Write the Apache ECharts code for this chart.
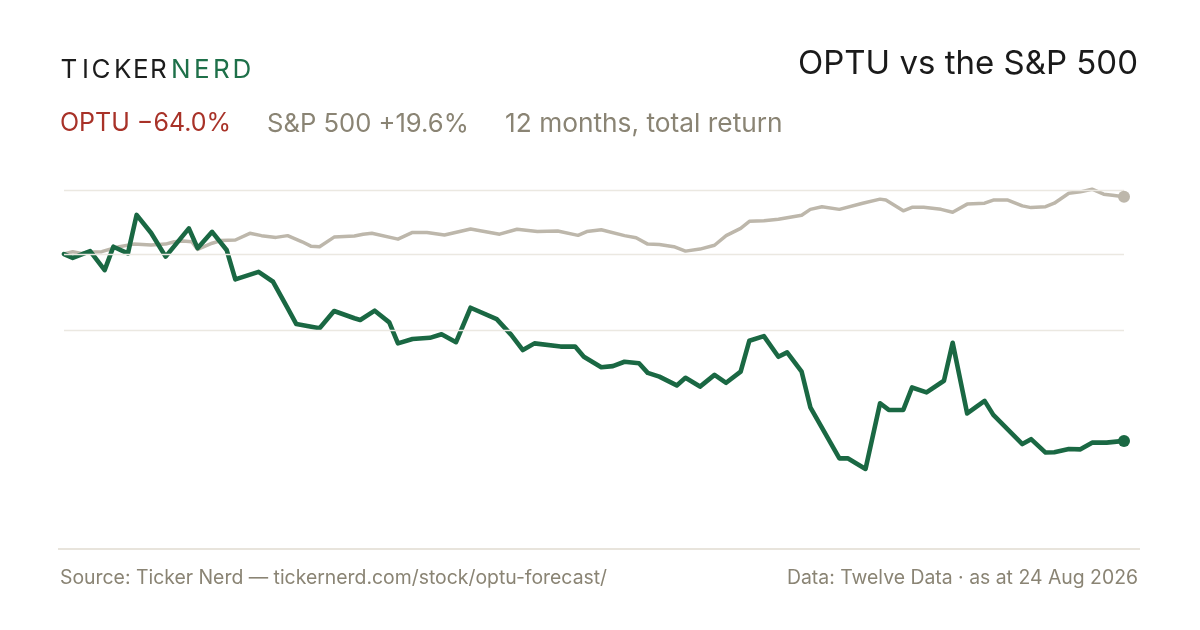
<!DOCTYPE html>
<html><head><meta charset="utf-8">
<script src="https://cdn.jsdelivr.net/npm/echarts@6/dist/echarts.min.js"></script>
<style>html,body{margin:0;padding:0;background:#fff}#c{width:1200px;height:630px}</style>
</head><body><div id="c"></div>
<script>
// ---- data (day offset within the 12-month window, total return %) ----
const optuDays = [0,3,9,14,17,22,25,30,35,43,46,51,56,59,67,72,77,80,88,93,100,102,107,112,115,120,126,130,135,140,149,154,158,162,171,176,179,185,189,193,198,201,205,211,214,219,224,228,233,236,241,246,249,254,257,267,270,276,281,284,289,292,297,303,306,311,317,320,330,333,338,341,346,350,354,359,365];
const optuReturns = [0,-1.3,1.0,-5.5,2.5,0.2,13.4,7.2,-0.9,8.8,2.0,7.6,1.4,-8.7,-6.1,-9.5,-18.5,-24.0,-25.4,-19.5,-22.0,-22.6,-19.4,-23.4,-30.6,-29.1,-28.7,-27.5,-30.2,-18.4,-22.3,-27.7,-32.9,-30.6,-31.7,-31.7,-35.2,-38.8,-38.4,-36.9,-37.4,-40.7,-42.0,-45.0,-42.4,-45.4,-41.4,-44.1,-40.3,-29.7,-28.1,-35.2,-33.7,-40.3,-52.5,-70.0,-70.0,-73.6,-51.1,-53.4,-53.4,-45.7,-47.4,-43.4,-30.4,-54.6,-50.3,-55.1,-65.1,-63.4,-68.0,-67.9,-66.8,-66.9,-64.6,-64.6,-64.0];
const spxDays = [0,3,6,8,13,15,19,24,30,35,38,41,44,46,51,54,59,64,68,73,77,82,85,88,93,100,103,106,115,120,125,131,140,150,156,163,170,177,180,185,193,197,201,205,210,214,219,224,228,233,236,241,246,254,257,261,267,275,281,283,289,292,296,302,306,311,317,320,325,330,333,338,341,346,350,354,358,361,365];
const spxReturns = [0,0.8,0.2,0.6,0.8,1.4,2.5,3.4,3.1,3.4,4.2,4.5,4.2,1.6,3.7,4.6,4.8,7.1,6.3,5.7,6.3,4.2,2.7,2.5,5.8,6.2,6.8,7.1,5.1,7.4,7.4,6.5,8.6,6.8,8.5,7.7,7.9,6.4,7.7,8.3,6.3,5.6,3.4,3.3,2.5,1.0,1.7,3.0,6.3,8.8,11.2,11.4,11.9,13.3,15.3,16.2,15.3,17.4,18.8,18.5,14.8,16.0,16.0,15.3,14.3,17.1,17.4,18.5,18.5,16.5,15.9,16.2,17.4,20.8,21.3,22.2,20.5,20.1,19.6];
const gridValues = [22, 0, -26];
const yRange = [-100, 22];
const xRange = [0, 365];

const brandLeft = 'TICKER';
const brandRight = 'NERD';
const titleText = 'OPTU vs the S&P 500';
const optuLabel = 'OPTU \u221264.0%';
const spxLabel = 'S&P 500 +19.6%';
const periodLabel = '12 months, total return';
const sourceText = 'Source: Ticker Nerd \u2014 tickernerd.com/stock/optu-forecast/';
const dataText = 'Data: Twelve Data \u00b7 as at 24 Aug 2026';

const GREEN = '#1a6843';
const GREY_LINE = '#bdb7ab';
const TEXT_GREY = '#8a8474';
const FONT = 'Inter, "Noto Sans", sans-serif';

const pair = (xs, ys) => xs.map((d, i) => [d, ys[i]]);
const optuData = pair(optuDays, optuReturns);
const spxData = pair(spxDays, spxReturns);

// brand letters placed individually for letter spacing
const brandLetters = [];
const letterX = [60.5, 82, 91.5, 114, 133, 150, 171, 194, 213, 232.5];
(brandLeft + brandRight).split('').forEach((ch, i) => {
  brandLetters.push({
    type: 'text', left: letterX[i], top: 57,
    style: { text: ch, font: '400 26px ' + FONT, fill: i < brandLeft.length ? '#1c1c1c' : '#1e7049' }
  });
});

const chart = echarts.init(document.getElementById('c'), null, { renderer: 'canvas' });
chart.setOption({
  animation: false,
  backgroundColor: '#ffffff',
  grid: { left: 64, right: 76, top: 189.8, bottom: 84 },
  xAxis: { type: 'value', min: xRange[0], max: xRange[1], show: false },
  yAxis: { type: 'value', min: yRange[0], max: yRange[1], show: false },
  graphic: [
    ...brandLetters,
    { type: 'text', right: 62, top: 48, style: { text: titleText, font: '400 33px ' + FONT, fill: '#1a1a1a' } },
    { type: 'text', left: 60, top: 111, style: { text: optuLabel, font: '400 25px ' + FONT, fill: '#a83228' } },
    { type: 'text', left: 267, top: 111, style: { text: spxLabel, font: '400 25.6px ' + FONT, fill: TEXT_GREY } },
    { type: 'text', left: 505, top: 111, style: { text: periodLabel, font: '400 26.3px ' + FONT, fill: TEXT_GREY } },
    { type: 'line', shape: { x1: 58, y1: 549, x2: 1140, y2: 549 }, style: { stroke: '#e0dbd0', lineWidth: 1.5 } },
    { type: 'text', left: 60, top: 569, style: { text: sourceText, font: '400 19.4px ' + FONT, fill: TEXT_GREY } },
    { type: 'text', right: 62, top: 569, style: { text: dataText, font: '400 19.4px ' + FONT, fill: TEXT_GREY } }
  ],
  series: [
    {
      type: 'line', data: [], z: 1, silent: true,
      markLine: {
        silent: true, symbol: 'none', label: { show: false },
        lineStyle: { color: '#ebe8e1', width: 1.3, type: 'solid' },
        data: gridValues.map(v => ({ yAxis: v }))
      }
    },
    {
      type: 'line', data: spxData, z: 3, showSymbol: false, clip: false,
      lineStyle: { color: GREY_LINE, width: 3.5, join: 'round', cap: 'round' }
    },
    {
      type: 'line', data: optuData, z: 4, showSymbol: false, clip: false,
      lineStyle: { color: GREEN, width: 4.6, join: 'round', cap: 'round' }
    },
    {
      type: 'scatter', z: 5, symbolSize: 12, clip: false,
      data: [spxData[spxData.length - 1]], itemStyle: { color: GREY_LINE, opacity: 1 }
    },
    {
      type: 'scatter', z: 6, symbolSize: 12, clip: false,
      data: [optuData[optuData.length - 1]], itemStyle: { color: GREEN, opacity: 1 }
    }
  ]
});
</script></body></html>
